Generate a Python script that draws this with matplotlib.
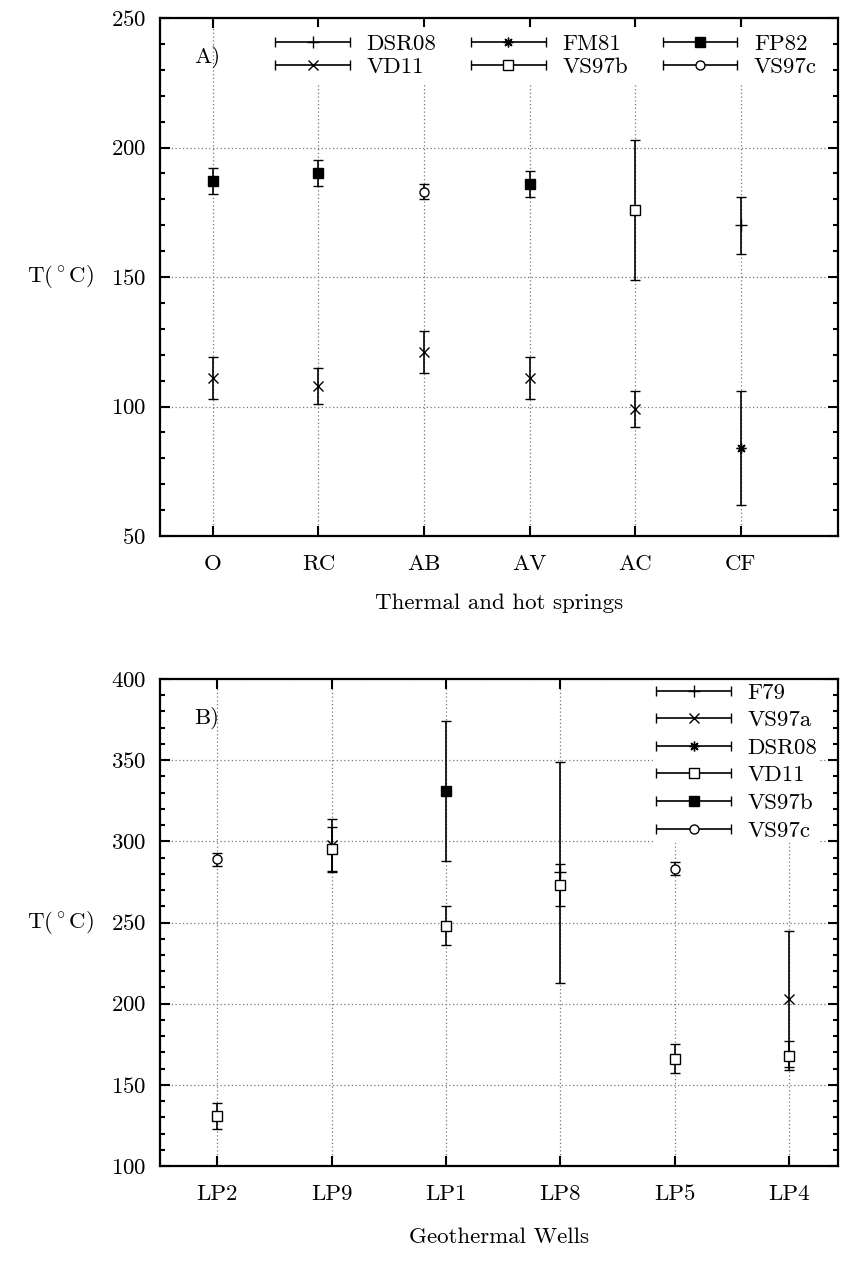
#!/usr/bin/env python3
import numpy as np
import matplotlib
matplotlib.use("Agg")
import matplotlib.pyplot as plt
from matplotlib.container import ErrorbarContainer
from matplotlib.legend_handler import HandlerErrorbar
from matplotlib.ticker import MultipleLocator

OUTPUT_FILE = "out.png"

# A) thermal and hot springs
springs = ["O", "RC", "AB", "AV", "AC", "CF"]
a_dsr08_sites = ["CF"]
a_dsr08_t = [170]
a_dsr08_err = [11]
a_fm81_sites = ["CF"]
a_fm81_t = [84]
a_fm81_err = [22]
a_fp82_sites = ["O", "RC", "AV"]
a_fp82_t = [187, 190, 186]
a_fp82_err = [5, 5, 5]
a_vd11_sites = ["O", "RC", "AB", "AV", "AC"]
a_vd11_t = [111, 108, 121, 111, 99]
a_vd11_err = [8, 7, 8, 8, 7]
a_vs97b_sites = ["AC"]
a_vs97b_t = [176]
a_vs97b_err = [27]
a_vs97c_sites = ["AB"]
a_vs97c_t = [183]
a_vs97c_err = [3]

# B) geothermal wells
wells = ["LP2", "LP9", "LP1", "LP8", "LP5", "LP4"]
b_f79_sites = ["LP8"]
b_f79_t = [281]
b_f79_err = [68]
b_vs97a_sites = ["LP9", "LP4"]
b_vs97a_t = [298, 203]
b_vs97a_err = [16, 42]
b_dsr08_sites = []
b_dsr08_t = []
b_dsr08_err = []
b_vd11_sites = ["LP2", "LP9", "LP1", "LP8", "LP5", "LP4"]
b_vd11_t = [131, 295, 248, 273, 166, 168]
b_vd11_err = [8, 14, 12, 13, 9, 9]
b_vs97b_sites = ["LP1"]
b_vs97b_t = [331]
b_vs97b_err = [43]
b_vs97c_sites = ["LP2", "LP5"]
b_vs97c_t = [289, 283]
b_vs97c_err = [4, 4]

plt.rcParams["font.family"] = "serif"
plt.rcParams["font.serif"] = ["cmr10"]
plt.rcParams["mathtext.fontset"] = "cm"
plt.rcParams["axes.formatter.use_mathtext"] = True
plt.rcParams["font.size"] = 16.5

ASTER = (8, 2, 0)
STYLES = {
    "plus": dict(marker="+", ms=8, mfc="black"),
    "cross": dict(marker="x", ms=6.5, mfc="black"),
    "aster": dict(marker=ASTER, ms=7, mfc="black"),
    "fsq": dict(marker="s", ms=7, mfc="black"),
    "osq": dict(marker="s", ms=7, mfc="white"),
    "ocirc": dict(marker="o", ms=6.5, mfc="white"),
}


def draw_series(ax, cats, sites, temps, errs, style, label):
    kw = dict(color="black", mec="black", mew=1.0, ls="none",
              elinewidth=1.2, capsize=3.5, capthick=1.2, **STYLES[style])
    if sites:
        x = [cats.index(s) + 1 for s in sites]
        ax.errorbar(x, temps, yerr=errs, zorder=3, **kw)
    # legend proxy with a horizontal bar, like the original
    proxy = ax.errorbar([np.nan], [np.nan], xerr=[1.0], label=label, **kw)
    return proxy


def style_axes(ax, cats, ylim, xmax):
    ax.set_xlim(0.5, xmax)
    ax.set_ylim(*ylim)
    ax.set_xticks(range(1, len(cats) + 1))
    ax.set_xticklabels(cats)
    ax.yaxis.set_major_locator(MultipleLocator(50))
    ax.yaxis.set_minor_locator(MultipleLocator(10))
    ax.tick_params(which="both", direction="in", top=True, right=True, width=1.5)
    ax.tick_params(which="major", length=7, pad=10)
    ax.tick_params(axis="x", which="major", pad=13)
    ax.tick_params(which="minor", length=3.5)
    for sp in ax.spines.values():
        sp.set_linewidth(1.6)
    ax.grid(True, which="major", color="#777777", ls=(0, (1, 2)), lw=0.9)
    ax.set_axisbelow(True)
    ax.set_ylabel(r"T($^\circ$C)", rotation=0, ha="center", va="center")
    ax.yaxis.set_label_coords(-0.147, 0.5)


fig = plt.figure(figsize=(8.44, 12.77), dpi=100)
ax1 = fig.add_axes([160 / 844, 1 - 536 / 1277, 678 / 844, 518 / 1277])
ax2 = fig.add_axes([160 / 844, 1 - 1166 / 1277, 678 / 844, 487 / 1277])

h_dsr08 = draw_series(ax1, springs, a_dsr08_sites, a_dsr08_t, a_dsr08_err, "plus", "DSR08")
h_fm81 = draw_series(ax1, springs, a_fm81_sites, a_fm81_t, a_fm81_err, "aster", "FM81")
h_fp82 = draw_series(ax1, springs, a_fp82_sites, a_fp82_t, a_fp82_err, "fsq", "FP82")
h_vd11 = draw_series(ax1, springs, a_vd11_sites, a_vd11_t, a_vd11_err, "cross", "VD11")
h_vs97b = draw_series(ax1, springs, a_vs97b_sites, a_vs97b_t, a_vs97b_err, "osq", "VS97b")
h_vs97c = draw_series(ax1, springs, a_vs97c_sites, a_vs97c_t, a_vs97c_err, "ocirc", "VS97c")
style_axes(ax1, springs, (50, 250), 6.92)
ax1.set_xlabel("Thermal and hot springs", labelpad=14)
ax1.text(0.05, 0.925, "A)", transform=ax1.transAxes, ha="left", va="center")

hmap = {ErrorbarContainer: HandlerErrorbar(xerr_size=1.63)}
leg1 = ax1.legend([h_dsr08, h_vd11, h_fm81, h_vs97b, h_fp82, h_vs97c],
                  ["DSR08", "VD11", "FM81", "VS97b", "FP82", "VS97c"],
                  ncol=3, loc="upper right", bbox_to_anchor=(0.996, 1.004),
                  handler_map=hmap, numpoints=1, handlelength=3.3,
                  handletextpad=0.7, columnspacing=1.5, labelspacing=0.1,
                  frameon=True, fancybox=False, framealpha=1,
                  facecolor="white", edgecolor="none", borderpad=0.3)
leg1.set_zorder(2.4)

g_f79 = draw_series(ax2, wells, b_f79_sites, b_f79_t, b_f79_err, "plus", "F79")
g_vs97a = draw_series(ax2, wells, b_vs97a_sites, b_vs97a_t, b_vs97a_err, "cross", "VS97a")
g_dsr08 = draw_series(ax2, wells, b_dsr08_sites, b_dsr08_t, b_dsr08_err, "aster", "DSR08")
g_vd11 = draw_series(ax2, wells, b_vd11_sites, b_vd11_t, b_vd11_err, "osq", "VD11")
g_vs97b = draw_series(ax2, wells, b_vs97b_sites, b_vs97b_t, b_vs97b_err, "fsq", "VS97b")
g_vs97c = draw_series(ax2, wells, b_vs97c_sites, b_vs97c_t, b_vs97c_err, "ocirc", "VS97c")
style_axes(ax2, wells, (100, 400), 6.43)
ax2.set_xlabel("Geothermal Wells", labelpad=17)
ax2.text(0.05, 0.92, "B)", transform=ax2.transAxes, ha="left", va="center")

leg2 = ax2.legend([g_f79, g_vs97a, g_dsr08, g_vd11, g_vs97b, g_vs97c],
                  ["F79", "VS97a", "DSR08", "VD11", "VS97b", "VS97c"],
                  ncol=1, loc="upper right", bbox_to_anchor=(0.99, 1.021),
                  handler_map=hmap, numpoints=1, handlelength=3.3,
                  handletextpad=0.7, labelspacing=0.33,
                  frameon=True, fancybox=False, framealpha=1,
                  facecolor="white", edgecolor="none", borderpad=0.1)
leg2.set_zorder(2.4)

fig.savefig(OUTPUT_FILE, dpi=100)
print(f"Plot saved to {OUTPUT_FILE}")
